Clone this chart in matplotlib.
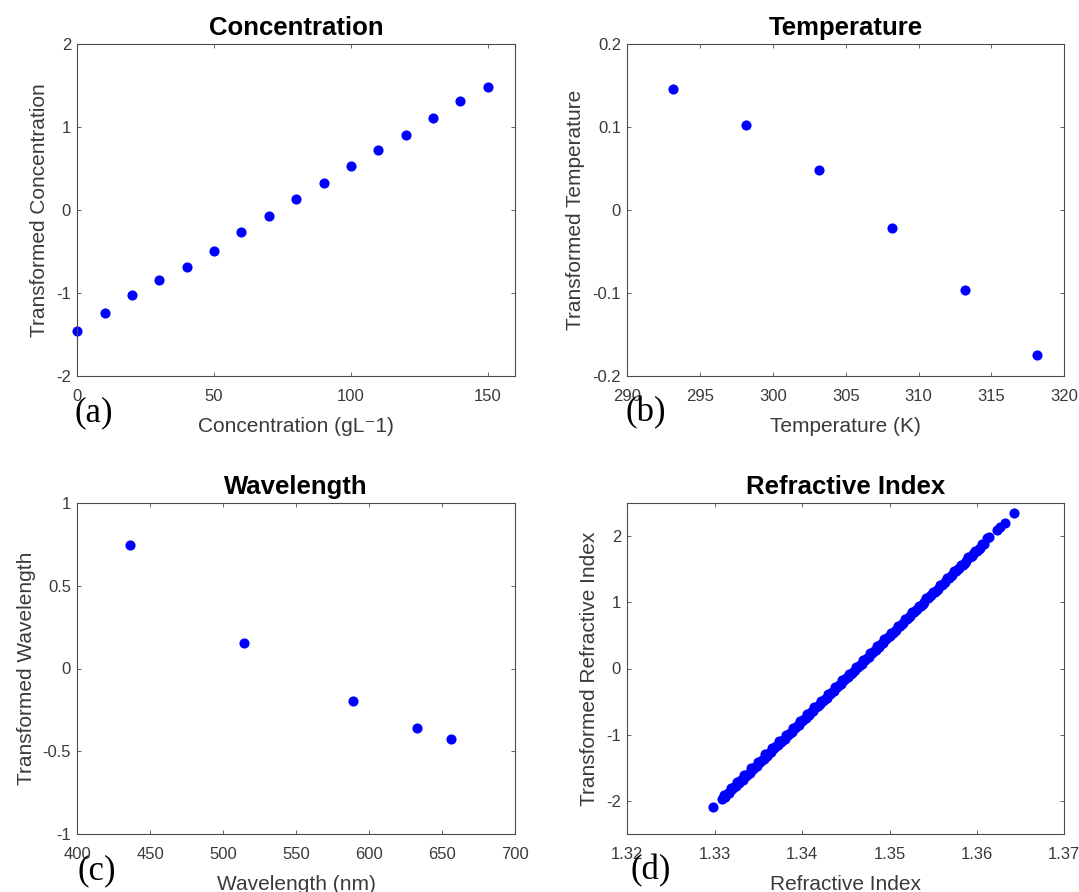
import matplotlib
matplotlib.use("Agg")
import matplotlib.pyplot as plt

plt.rcParams["font.family"] = ["Liberation Sans", "DejaVu Sans"]

# ---- (a) concentration ----
conc = [0, 10, 20, 30, 40, 50, 60, 70, 80, 90, 100, 110, 120, 130, 140, 150]
conc_t = [-1.46, -1.24, -1.03, -0.85, -0.69, -0.49, -0.27, -0.07,
          0.13, 0.33, 0.53, 0.73, 0.91, 1.11, 1.32, 1.49]

# ---- (b) temperature ----
temp = [293.15, 298.15, 303.15, 308.15, 313.15, 318.15]
temp_t = [0.146, 0.103, 0.048, -0.022, -0.097, -0.175]

# ---- (c) wavelength ----
wave = [435.8, 514.5, 589.3, 632.8, 656.3]
wave_t = [0.75, 0.156, -0.194, -0.362, -0.426]

# ---- (d) refractive index ----
ri = [1.3298, 1.3308, 1.3311, 1.3315, 1.3319, 1.3322, 1.3326, 1.3330,
      1.3334, 1.3338, 1.3342, 1.3346, 1.3350, 1.3354, 1.3358, 1.3362,
      1.3366, 1.3370, 1.3374, 1.3378, 1.3382, 1.3386, 1.3390, 1.3394,
      1.3398, 1.3402, 1.3406, 1.3410, 1.3414, 1.3418, 1.3422, 1.3426,
      1.3430, 1.3434, 1.3438, 1.3442, 1.3446, 1.3450, 1.3454, 1.3458,
      1.3462, 1.3466, 1.3470, 1.3474, 1.3478, 1.3482, 1.3486, 1.3490,
      1.3494, 1.3498, 1.3502, 1.3506, 1.3510, 1.3514, 1.3518, 1.3522,
      1.3526, 1.3530, 1.3534, 1.3538, 1.3542, 1.3546, 1.3550, 1.3554,
      1.3558, 1.3562, 1.3566, 1.3570, 1.3574, 1.3578, 1.3582, 1.3586,
      1.3590, 1.3594, 1.3598, 1.3602, 1.3606, 1.3611, 1.3614, 1.3623,
      1.3627, 1.3632, 1.3643,
      1.3312, 1.3316, 1.3320, 1.3324, 1.3328, 1.3332, 1.3336, 1.3340,
      1.3344, 1.3348, 1.3352, 1.3356, 1.3360, 1.3364, 1.3368, 1.3372,
      1.3376, 1.3380, 1.3384, 1.3388, 1.3392, 1.3396, 1.3400, 1.3404,
      1.3408, 1.3412, 1.3416, 1.3420, 1.3424, 1.3428, 1.3432, 1.3436,
      1.3440, 1.3444, 1.3448, 1.3452, 1.3456, 1.3460, 1.3464, 1.3468,
      1.3472, 1.3476, 1.3480, 1.3484, 1.3488, 1.3492, 1.3496, 1.3500,
      1.3504, 1.3508, 1.3512, 1.3516, 1.3520, 1.3524, 1.3528, 1.3532,
      1.3536, 1.3540, 1.3544, 1.3548, 1.3552, 1.3556, 1.3560, 1.3564,
      1.3568, 1.3572, 1.3576, 1.3580, 1.3584, 1.3588, 1.3592, 1.3596,
      1.3600, 1.3604, 1.3608]
ri_t = [-2.10, -1.97, -1.91, -1.88, -1.81, -1.79, -1.72, -1.69,
        -1.61, -1.59, -1.51, -1.49, -1.41, -1.39, -1.30, -1.28,
        -1.20, -1.18, -1.10, -1.08, -1.00, -0.97, -0.90, -0.87,
        -0.79, -0.77, -0.69, -0.66, -0.59, -0.56, -0.49, -0.46,
        -0.38, -0.36, -0.28, -0.25, -0.18, -0.15, -0.08, -0.05,
        0.03, 0.06, 0.13, 0.16, 0.23, 0.26, 0.34, 0.37,
        0.44, 0.47, 0.54, 0.57, 0.65, 0.68, 0.75, 0.78,
        0.85, 0.88, 0.95, 0.98, 1.06, 1.09, 1.16, 1.19,
        1.26, 1.29, 1.37, 1.40, 1.47, 1.50, 1.57, 1.60,
        1.68, 1.71, 1.78, 1.81, 1.88, 1.97, 1.99, 2.09,
        2.14, 2.20, 2.35,
        -1.94, -1.89, -1.83, -1.78, -1.73, -1.68, -1.63, -1.58,
        -1.52, -1.47, -1.42, -1.37, -1.32, -1.27, -1.21, -1.16,
        -1.11, -1.06, -1.01, -0.96, -0.90, -0.85, -0.80, -0.75,
        -0.70, -0.65, -0.59, -0.54, -0.49, -0.44, -0.39, -0.34,
        -0.28, -0.23, -0.18, -0.13, -0.08, -0.03, 0.02, 0.07,
        0.13, 0.18, 0.23, 0.28, 0.33, 0.38, 0.44, 0.49,
        0.54, 0.59, 0.64, 0.69, 0.75, 0.80, 0.85, 0.90,
        0.95, 1.00, 1.06, 1.11, 1.16, 1.21, 1.26, 1.31,
        1.37, 1.42, 1.47, 1.52, 1.57, 1.62, 1.68, 1.73,
        1.78, 1.83, 1.89]

# ---- axis ticks / labels ----
conc_xticks, conc_xlabels = [0, 50, 100, 150], ["0", "50", "100", "150"]
conc_yticks, conc_ylabels = [-2, -1, 0, 1, 2], ["-2", "-1", "0", "1", "2"]
temp_xticks = [290, 295, 300, 305, 310, 315, 320]
temp_xlabels = ["290", "295", "300", "305", "310", "315", "320"]
temp_yticks = [-0.2, -0.1, 0, 0.1, 0.2]
temp_ylabels = ["-0.2", "-0.1", "0", "0.1", "0.2"]
wave_xticks = [400, 450, 500, 550, 600, 650, 700]
wave_xlabels = ["400", "450", "500", "550", "600", "650", "700"]
wave_yticks = [-1, -0.5, 0, 0.5, 1]
wave_ylabels = ["-1", "-0.5", "0", "0.5", "1"]
ri_xticks = [1.32, 1.33, 1.34, 1.35, 1.36, 1.37]
ri_xlabels = ["1.32", "1.33", "1.34", "1.35", "1.36", "1.37"]
ri_yticks = [-2, -1, 0, 1, 2]
ri_ylabels = ["-2", "-1", "0", "1", "2"]

W, H = 1079, 892
fig = plt.figure(figsize=(W / 100, H / 100), dpi=100)

AXC = "#4a4a4a"
TXT = "#3a3a3a"
BLUE = "#0000ff"


def px_axes(left, top, right, bottom):
    return fig.add_axes([left / W, 1 - bottom / H, (right - left) / W, (bottom - top) / H])


def style(ax, title, xlabel, ylabel, xlim, ylim, xt, xl, yt, yl):
    ax.set_xlim(xlim)
    ax.set_ylim(ylim)
    ax.set_xticks(xt)
    ax.set_xticklabels(xl)
    ax.set_yticks(yt)
    ax.set_yticklabels(yl)
    ax.tick_params(direction="in", length=3, width=0.6, color=AXC,
                   labelcolor=TXT, labelsize=12, top=True, right=True)
    ax.tick_params(axis="x", pad=9.5)
    ax.tick_params(axis="y", pad=4.5)
    for s in ax.spines.values():
        s.set_color(AXC)
        s.set_linewidth(0.8)
    ax.set_title(title, fontsize=18.5, fontweight="bold", pad=7, color="black")
    ax.set_xlabel(xlabel, fontsize=15, color=TXT, labelpad=9.5)
    ax.set_ylabel(ylabel, fontsize=15, color=TXT, labelpad=5)


def dots(ax, x, y):
    ax.plot(x, y, linestyle="none", marker="o", markersize=7.3,
            markerfacecolor=BLUE, markeredgewidth=0, clip_on=False)


ax_a = px_axes(77.3, 44.3, 515.0, 375.7)
dots(ax_a, conc, conc_t)
style(ax_a, "Concentration", "Concentration (gL\u207b1)", "Transformed Concentration",
      (0, 160), (-2, 2), conc_xticks, conc_xlabels, conc_yticks, conc_ylabels)

ax_b = px_axes(627.3, 44.3, 1064.3, 375.7)
dots(ax_b, temp, temp_t)
style(ax_b, "Temperature", "Temperature (K)", "Transformed Temperature",
      (290, 320), (-0.2, 0.2), temp_xticks, temp_xlabels, temp_yticks, temp_ylabels)

ax_c = px_axes(77.3, 503.3, 515.0, 833.7)
dots(ax_c, wave, wave_t)
style(ax_c, "Wavelength", "Wavelength (nm)", "Transformed Wavelength",
      (400, 700), (-1, 1), wave_xticks, wave_xlabels, wave_yticks, wave_ylabels)

ax_d = px_axes(627.3, 503.3, 1064.3, 833.7)
dots(ax_d, ri, ri_t)
style(ax_d, "Refractive Index", "Refractive Index", "Transformed Refractive Index",
      (1.32, 1.37), (-2.5, 2.5), ri_xticks, ri_xlabels, ri_yticks, ri_ylabels)

# panel letters
for lab, (px, py) in {"(a)": (93.5, 412.5), "(b)": (645.5, 412.5),
                      "(c)": (96.7, 871.0), "(d)": (650.5, 871.0)}.items():
    fig.text(px / W, 1 - py / H, lab, family="Liberation Serif", fontsize=25,
             ha="center", va="center", color="black")

fig.savefig("out.png", dpi=100)
